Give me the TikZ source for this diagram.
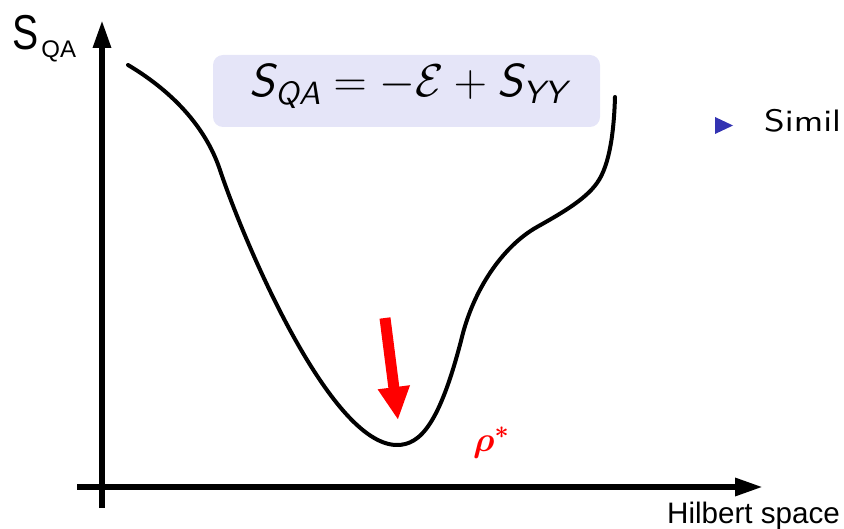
\RequirePackage{fix-cm}
\documentclass[tikz,border=0pt]{standalone}
\usepackage{amsmath}
\usepackage{fontspec}
\usepackage{bm}
\usetikzlibrary{arrows.meta}
\newfontfamily\arial{Liberation Sans}
\newfontfamily\lmsansten{lmsans10-regular.otf}
\newfontfamily\lmsansobl{lmsans10-oblique.otf}
\newcommand\sfi[1]{\text{\lmsansobl #1}}
\definecolor{boxfill}{RGB}{229,229,248}
\definecolor{beamerblue}{RGB}{51,51,178}
\begin{document}
\begin{tikzpicture}[x=1pt,y=-1pt,
  axis/.style={line width=6pt,-{Triangle[length=28pt,width=17pt]}},
  curve/.style={line width=4pt,line cap=round,line join=round},
  fbox/.style={fill=boxfill,rounded corners=10pt,minimum width=387pt,minimum height=72pt,inner sep=0pt},
  redarrow/.style={red,line width=11pt,-{Triangle[length=33pt,width=30pt]}},
  lbl/.style={anchor=base west,inner sep=0pt}]
\useasboundingbox (0,0) rectangle (844,529);
\clip (0,0) rectangle (844,529);
% axes
\coordinate (yb) at (102,508);
\coordinate (yt) at (102,20);
\coordinate (xl) at (77,487);
\coordinate (xr) at (763,487);
\draw[axis] (yb) -- (yt);
\draw[axis] (xl) -- (xr);
% axis labels
\node[lbl] (ylab) at (12,50) {\arial\scalebox{0.8}[1]{\fontsize{49}{50}\selectfont S}\kern3pt\raisebox{-8pt}{\fontsize{24}{26}\selectfont QA}};
\node[lbl] (xlab) at (667,523) {\arial\fontsize{29.6}{32}\selectfont Hilbert space};
% formula box
\node[fbox] (box) at (406.5,91) {};
\node[inner sep=0pt] (formula) at (408,86) {\fontsize{46}{50}\selectfont $\sfi{S}_{\sfi{QA}} = -\mathcal{E} + \sfi{S}_{\sfi{YY}}$};
% curve
\coordinate (A) at (128,65);
\coordinate (B) at (220,170);
\coordinate (C) at (397,445);
\coordinate (D) at (463,333);
\coordinate (E) at (537,227);
\coordinate (F) at (597,183);
\coordinate (G) at (615,97);
\draw[curve] (A) .. controls (170,90) and (205,125) .. (B)
  .. controls (244,242) and (330,445) .. (C)
  .. controls (420,445) and (440,425) .. (D)
  .. controls (476,285) and (505,245) .. (E)
  .. controls (560,214) and (585,200) .. (F)
  .. controls (610,165) and (614,130) .. (G);
% red arrow
\coordinate (ra) at (385,318);
\coordinate (rb) at (398,420);
\draw[redarrow] (ra) -- (rb);
\node[lbl,red] (rho) at (473,451) {\fontsize{35}{40}\selectfont$\bm{\rho}^{\bm{*}}$};
% bullet
\fill[beamerblue] (715,117) -- (733,125.5) -- (715,134) -- cycle;
\node[lbl] (simil) at (764,132) {\scalebox{1.2}[1]{\lmsansten\fontsize{31}{34}\selectfont Simil}};
\end{tikzpicture}
\end{document}
